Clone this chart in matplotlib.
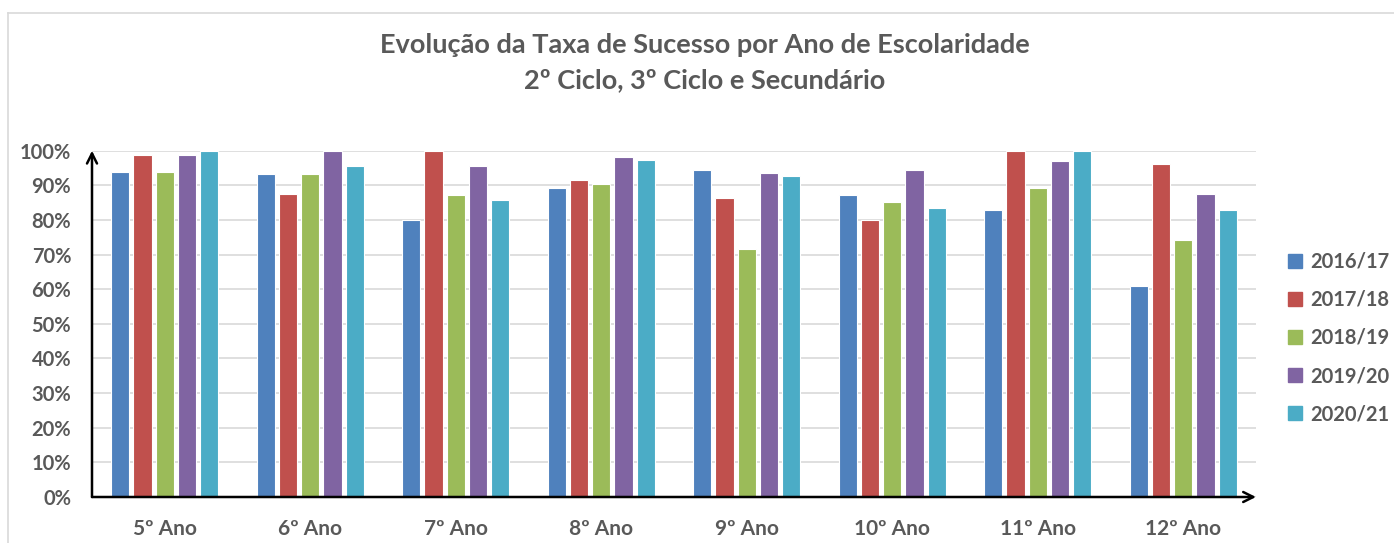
import matplotlib
matplotlib.use("Agg")
import matplotlib.pyplot as plt
import numpy as np
from matplotlib.lines import Line2D
from matplotlib.ticker import FuncFormatter

categories = ["5º Ano", "6º Ano", "7º Ano", "8º Ano", "9º Ano", "10º Ano", "11º Ano", "12º Ano"]
series_names = ["2016/17", "2017/18", "2018/19", "2019/20", "2020/21"]
v_2016_17 = [93.8, 93.4, 80.0, 89.1, 94.3, 87.2, 82.8, 61.0]
v_2017_18 = [98.7, 87.5, 100.0, 91.5, 86.4, 80.0, 100.0, 96.2]
v_2018_19 = [93.9, 93.3, 87.2, 90.4, 71.6, 85.3, 89.3, 74.2]
v_2019_20 = [98.7, 100.0, 95.6, 98.2, 93.6, 94.4, 96.9, 87.5]
v_2020_21 = [100.0, 95.5, 85.7, 97.3, 92.8, 83.4, 100.0, 82.8]
series_values = [v_2016_17, v_2017_18, v_2018_19, v_2019_20, v_2020_21]
colors = ["#4F81BD", "#C0504D", "#9BBB59", "#8064A2", "#4BACC6"]
title_lines = ["Evolução da Taxa de Sucesso por Ano de Escolaridade",
               "2º Ciclo, 3º Ciclo e Secundário"]

plt.rcParams['font.family'] = ['Lato', 'DejaVu Sans']
text_color = "#595959"

fig = plt.figure(figsize=(13.94, 5.43), dpi=100)
ax = fig.add_axes([92/1394, 1-497/543, (1256-92)/1394, (497-150.7)/543])

x = np.arange(len(categories))
step = 0.153
width = 0.125
for i, (name, vals) in enumerate(zip(series_names, series_values)):
    ax.bar(x + (i - 2) * step, np.array(vals) / 100.0, width=width, color=colors[i],
           edgecolor="white", linewidth=0.8, label=name, zorder=3)

ax.set_xlim(-0.5, len(categories) - 0.5)
ax.set_ylim(0, 1.0)
ax.set_yticks(np.arange(0, 1.01, 0.1))
ax.yaxis.set_major_formatter(FuncFormatter(lambda v, p: f"{int(round(v*100))}%"))
ax.set_xticks(x)
ax.set_xticklabels(categories)
ax.grid(axis="y", color="#D9D9D9", linewidth=1.2, zorder=0)
for s in ax.spines.values():
    s.set_visible(False)
ax.tick_params(axis="both", length=0, labelcolor=text_color)
ax.tick_params(axis="y", labelsize=14.5, pad=15)
ax.tick_params(axis="x", labelsize=15, pad=16)
for lab in ax.get_xticklabels() + ax.get_yticklabels():
    lab.set_fontweight("bold")

# axis arrows
ax.annotate("", xy=(0, 1.0), xycoords="axes fraction", xytext=(0, 0),
            arrowprops=dict(arrowstyle="->", color="black", lw=1.8, mutation_scale=18,
                            shrinkA=0, shrinkB=0), zorder=5)
ax.annotate("", xy=(1.0, 0), xycoords="axes fraction", xytext=(0, 0),
            arrowprops=dict(arrowstyle="->", color="black", lw=1.8, mutation_scale=18,
                            shrinkA=0, shrinkB=0), zorder=5)

title_x = (380 + 1030) / 2 / 1394
fig.text(title_x, 1 - 45/543, title_lines[0], ha="center", va="center",
         fontsize=19.5, fontweight="bold", color=text_color)
fig.text(title_x, 1 - 80/543, title_lines[1], ha="center", va="center",
         fontsize=19.5, fontweight="bold", color=text_color)

handles = [Line2D([0], [0], marker="s", linestyle="none", markersize=10,
                  markerfacecolor=c, markeredgecolor=c) for c in colors]
leg = fig.legend(handles, series_names, loc="center left", bbox_to_anchor=(1286/1394, 1 - 338/543),
                 frameon=False, handletextpad=0.3, labelspacing=0.9, handlelength=0.9,
                 borderpad=0, borderaxespad=0,
                 prop=dict(size=14.5, weight="bold"))
for t in leg.get_texts():
    t.set_color(text_color)

# chart border
fig.add_artist(Line2D([8/1394, 8/1394], [0, 1 - 13/543], transform=fig.transFigure, color="#D9D9D9", lw=1.2))
fig.add_artist(Line2D([8/1394, 1], [1 - 13/543, 1 - 13/543], transform=fig.transFigure, color="#D9D9D9", lw=1.2))

fig.savefig("out.png", dpi=100, facecolor="white")
